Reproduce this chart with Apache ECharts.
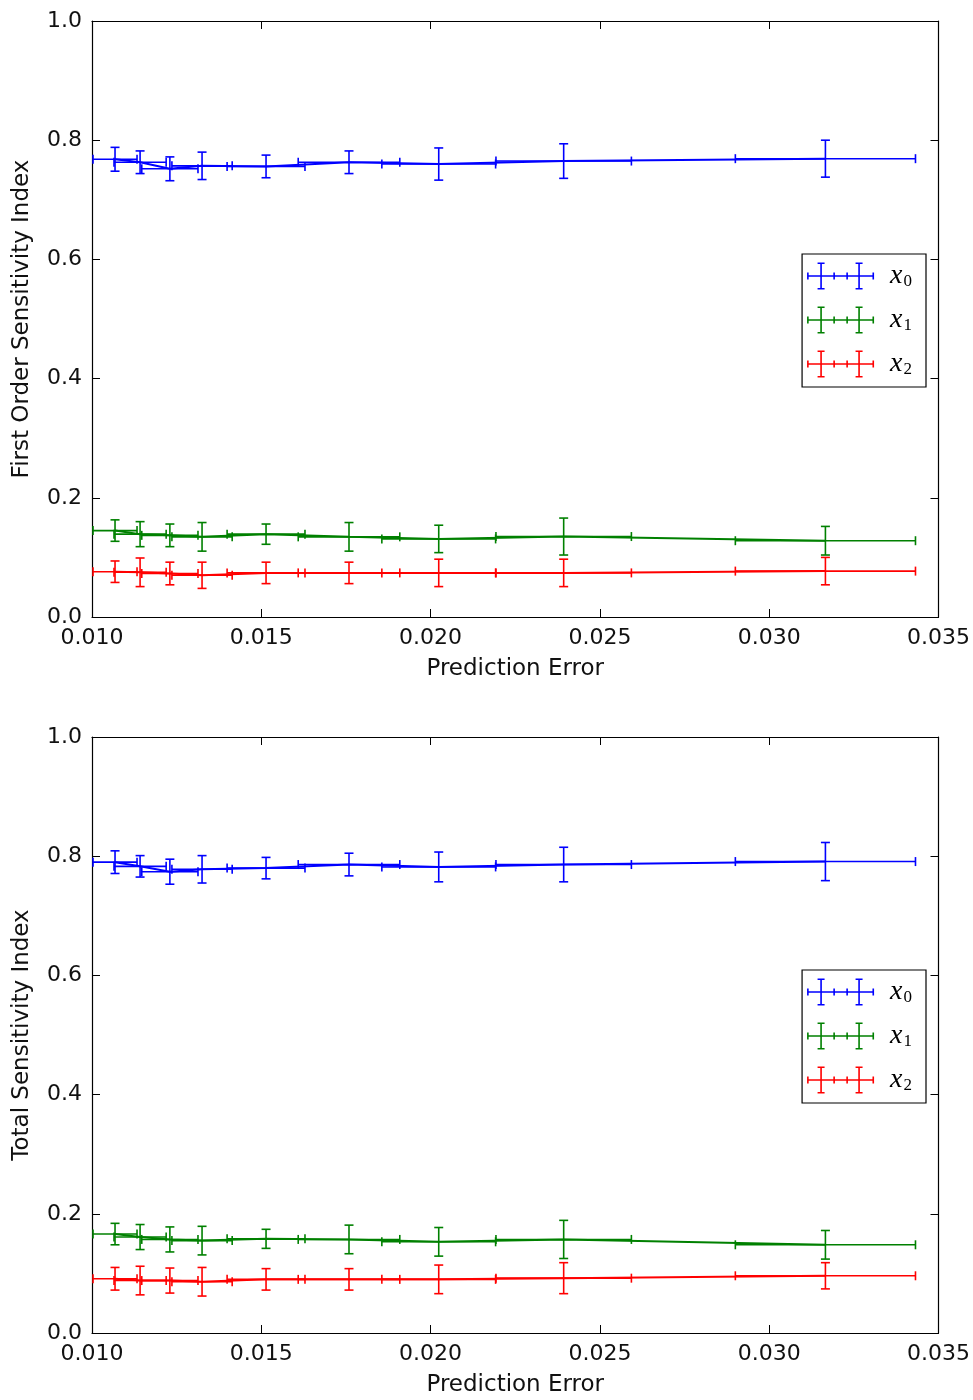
<!DOCTYPE html>
<html><head><meta charset="utf-8">
<script src="https://cdn.jsdelivr.net/npm/echarts/dist/echarts.min.js"></script>
<style>html,body{margin:0;padding:0;background:#fff}#c{width:973px;height:1400px}</style>
</head><body><div id="c"></div>
<script>
// ---- data ----
const predError    = [0.01068, 0.01142, 0.0123, 0.01325, 0.01514, 0.01759, 0.02024, 0.02393, 0.03166];
const predErrorStd = [0.00065, 0.00077, 0.00083, 0.00089, 0.00115, 0.0015, 0.00168, 0.002, 0.00266];

const firstX0    = [0.768, 0.763, 0.752, 0.757, 0.756, 0.763, 0.760, 0.765, 0.769];
const firstX0Err = [0.020, 0.019, 0.020, 0.023, 0.019, 0.019, 0.027, 0.029, 0.031];
const firstX1    = [0.145, 0.139, 0.137, 0.1345, 0.139, 0.1345, 0.131, 0.135, 0.128];
const firstX1Err = [0.018, 0.021, 0.019, 0.024, 0.017, 0.024, 0.023, 0.031, 0.024];
const firstX2    = [0.076, 0.075, 0.073, 0.070, 0.074, 0.074, 0.074, 0.074, 0.077];
const firstX2Err = [0.018, 0.024, 0.019, 0.022, 0.018, 0.018, 0.023, 0.023, 0.023];

const totalX0    = [0.790, 0.783, 0.774, 0.778, 0.780, 0.786, 0.782, 0.786, 0.791];
const totalX0Err = [0.019, 0.018, 0.021, 0.023, 0.018, 0.019, 0.025, 0.029, 0.032];
const totalX1    = [0.166, 0.161, 0.157, 0.155, 0.158, 0.157, 0.153, 0.157, 0.148];
const totalX1Err = [0.018, 0.021, 0.021, 0.024, 0.016, 0.024, 0.024, 0.032, 0.024];
const totalX2    = [0.091, 0.088, 0.088, 0.086, 0.090, 0.090, 0.090, 0.092, 0.096];
const totalX2Err = [0.019, 0.024, 0.021, 0.024, 0.018, 0.018, 0.024, 0.026, 0.022];

const seriesNames = ['x0', 'x1', 'x2'];
const xTitle = 'Prediction Error';
const yTitles = ['First Order Sensitivity Index', 'Total Sensitivity Index'];

// ---- styling ----
const colors = { x0: '#0000ff', x1: '#008000', x2: '#ff0000' };
const FONT = 'DejaVu Sans';
const LW = 1.6, CAP = 4.5;

function rect(x, y, w, h) { return `M${x} ${y}L${x + w} ${y}L${x + w} ${y + h}L${x} ${y + h}Z`; }
const t = 1.6;
const iconPath = 'path://' + [
  rect(0, 13.5 - t / 2, 67, t),
  rect(0, 10, t, 7), rect(26.25, 10, t, 7), rect(39.25, 10, t, 7), rect(67 - t, 10, t, 7),
  rect(14 - t / 2, 0, t, 27), rect(52 - t / 2, 0, t, 27),
  rect(10.5, 0, 7, t), rect(10.5, 27 - t, 7, t),
  rect(48.5, 0, 7, t), rect(48.5, 27 - t, 7, t)
].join('');

function errRender(color) {
  return function (params, api) {
    const x = api.value(0), y = api.value(1), xe = api.value(2), ye = api.value(3);
    const L = api.coord([x - xe, y]), R = api.coord([x + xe, y]);
    const T = api.coord([x, y + ye]), B = api.coord([x, y - ye]);
    const st = { stroke: color, lineWidth: LW, fill: null };
    const ln = (x1, y1, x2, y2) => ({ type: 'line', shape: { x1, y1, x2, y2 }, style: st });
    return {
      type: 'group', children: [
        ln(L[0], L[1], R[0], R[1]),
        ln(L[0], L[1] - CAP, L[0], L[1] + CAP),
        ln(R[0], R[1] - CAP, R[0], R[1] + CAP),
        ln(T[0], T[1], B[0], B[1]),
        ln(T[0] - CAP, T[1], T[0] + CAP, T[1]),
        ln(B[0] - CAP, B[1], B[0] + CAP, B[1])
      ]
    };
  };
}

function makeSeries(name, ys, yerrs, axisIdx) {
  const color = colors[name];
  return [
    {
      type: 'line', name, xAxisIndex: axisIdx, yAxisIndex: axisIdx,
      data: predError.map((x, i) => [x, ys[i]]),
      symbol: 'none', lineStyle: { color, width: 2 }, itemStyle: { color }, z: 3
    },
    {
      type: 'custom', name, xAxisIndex: axisIdx, yAxisIndex: axisIdx,
      data: predError.map((x, i) => [x, ys[i], predErrorStd[i], yerrs[i]]),
      dimensions: ['x', 'y', 'xe', 'ye'], encode: { x: 0, y: 1 },
      renderItem: errRender(color), itemStyle: { color }, z: 3
    }
  ];
}

const grids = [
  { left: 92, top: 21, width: 847, height: 596 },
  { left: 92, top: 737, width: 847, height: 596 }
];

const tickCommon = { inside: true, length: 8, lineStyle: { color: '#000', width: 1 } };
const lineCommon = { show: true, onZero: false, lineStyle: { color: '#000', width: 1.2 } };
const labelCommon = { color: '#111', fontFamily: FONT, fontSize: 22, margin: 10 };
const nameStyle = { color: '#111', fontFamily: FONT, fontSize: 23 };

const xAxes = [], yAxes = [];
grids.forEach((g, gi) => {
  xAxes.push({
    type: 'value', gridIndex: gi, position: 'bottom', min: 0.01, max: 0.035, interval: 0.005,
    axisLine: lineCommon, axisTick: tickCommon, splitLine: { show: false },
    axisLabel: Object.assign({ formatter: v => v.toFixed(3) }, labelCommon),
    name: xTitle, nameLocation: 'middle', nameGap: 41, nameTextStyle: nameStyle
  });
  xAxes.push({
    type: 'value', gridIndex: gi, position: 'top', min: 0.01, max: 0.035, interval: 0.005,
    axisLine: lineCommon, axisTick: tickCommon, splitLine: { show: false },
    axisLabel: { show: false }
  });
  yAxes.push({
    type: 'value', gridIndex: gi, position: 'left', min: 0, max: 1, interval: 0.2,
    axisLine: lineCommon, axisTick: tickCommon, splitLine: { show: false },
    axisLabel: Object.assign({ formatter: v => v.toFixed(1) }, labelCommon),
    name: yTitles[gi], nameLocation: 'middle', nameGap: 58, nameRotate: 90, nameTextStyle: nameStyle
  });
  yAxes.push({
    type: 'value', gridIndex: gi, position: 'right', min: 0, max: 1, interval: 0.2,
    axisLine: lineCommon, axisTick: tickCommon, splitLine: { show: false },
    axisLabel: { show: false }
  });
});

const series = [
  ...makeSeries('x0', firstX0, firstX0Err, 0),
  ...makeSeries('x1', firstX1, firstX1Err, 0),
  ...makeSeries('x2', firstX2, firstX2Err, 0),
  ...makeSeries('x0', totalX0, totalX0Err, 2),
  ...makeSeries('x1', totalX1, totalX1Err, 2),
  ...makeSeries('x2', totalX2, totalX2Err, 2)
];

function makeLegend(top) {
  return {
    orient: 'vertical', right: 47, top,
    data: seriesNames.map(n => ({ name: n, icon: iconPath })),
    itemWidth: 67, itemHeight: 27, itemGap: 16,
    padding: [8, 14, 9, 5],
    borderColor: '#000', borderWidth: 1.2, backgroundColor: '#fff',
    itemStyle: { borderWidth: 0 },
    selectedMode: false,
    formatter: n => '{x|x}{s|' + n.slice(1) + '}',
    textStyle: {
      color: '#000',
      rich: {
        x: { fontFamily: 'Liberation Serif', fontStyle: 'italic', fontSize: 28, color: '#000', padding: [0, 0, 0, 11] },
        s: { fontFamily: 'Liberation Serif', fontSize: 17, color: '#000', padding: [11, 0, 0, 1] }
      }
    }
  };
}

const chart = echarts.init(document.getElementById('c'));
chart.setOption({
  animation: false,
  backgroundColor: '#fff',
  grid: grids,
  xAxis: xAxes,
  yAxis: yAxes,
  legend: [makeLegend(254), makeLegend(970)],
  series
});
</script>
</body></html>
